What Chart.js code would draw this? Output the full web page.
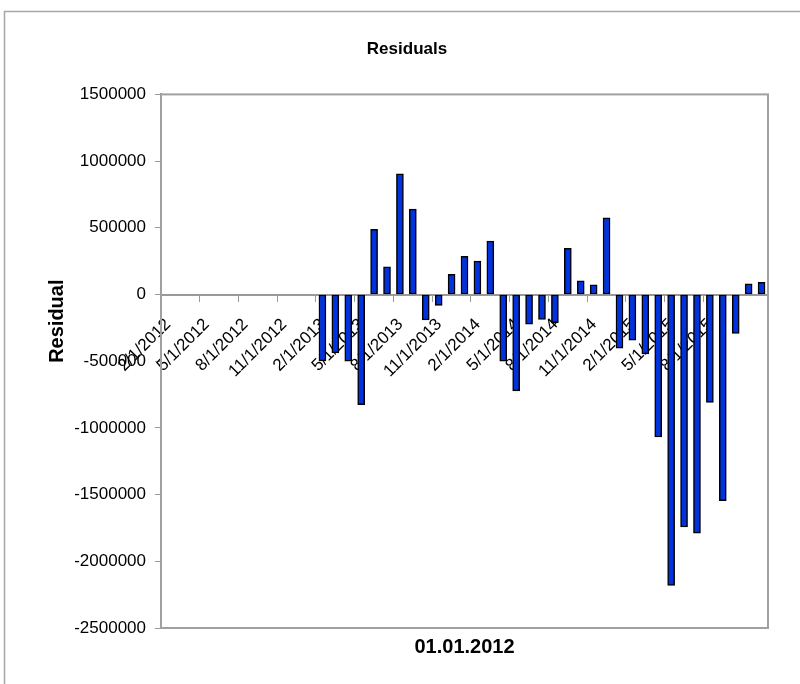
<!DOCTYPE html>
<html>
<head>
<meta charset="utf-8">
<title>Residuals</title>
<script src="https://cdn.jsdelivr.net/npm/chart.js@4"></script>
<style>
  html, body { margin: 0; padding: 0; background: #fff; }
  #wrap { width: 800px; height: 684px; }
</style>
</head>
<body>
<div id="wrap"><canvas id="chart" width="800" height="684"></canvas></div>
<script>
// axis starts at this month, ticks every 3 months
var axisStart = '2/1/2012';
var axisMonths = 47;
var tickLabels = ['2/1/2012', '5/1/2012', '8/1/2012', '11/1/2012',
    '2/1/2013', '5/1/2013', '8/1/2013', '11/1/2013',
    '2/1/2014', '5/1/2014', '8/1/2014', '11/1/2014',
    '2/1/2015', '5/1/2015', '8/1/2015', '11/1/2015'];

// monthly residuals
var months = ['2/1/2013', '3/1/2013', '4/1/2013', '5/1/2013', '6/1/2013', '7/1/2013',
    '8/1/2013', '9/1/2013', '10/1/2013', '11/1/2013', '12/1/2013',
    '1/1/2014', '2/1/2014', '3/1/2014', '4/1/2014', '5/1/2014', '6/1/2014',
    '7/1/2014', '8/1/2014', '9/1/2014', '10/1/2014', '11/1/2014', '12/1/2014',
    '1/1/2015', '2/1/2015', '3/1/2015', '4/1/2015', '5/1/2015', '6/1/2015',
    '7/1/2015', '8/1/2015', '9/1/2015', '10/1/2015', '11/1/2015', '12/1/2015'];
var residuals = [-497000, -437000, -500000, -826000, 488000, 207000,
    905000, 640000, -190000, -82000, 152000,
    287000, 250000, 400000, -500000, -722000, -222000,
    -187000, -212000, 347000, 103000, 73000, 575000,
    -402000, -342000, -445000, -1068000, -2180000, -1743000,
    -1790000, -809000, -1546000, -292000, 80000, 92000];

var yTicks = { min: -2500000, max: 1500000, step: 500000 };
var yTitle = 'Residual';

// month number of a m/d/yyyy string
function monthIndex(s) {
    var p = s.split('/');
    return parseInt(p[2], 10) * 12 + parseInt(p[0], 10) - 1;
}

var start = monthIndex(axisStart);
var points = months.map(function(m, i) {
    // bar sits in the middle of its month slot
    return { x: monthIndex(m) - start + 0.5, y: residuals[i] };
});

// gray frames (chart + plot area) and the y axis title, which excel puts above centre
var framePlugin = {
    id: 'frames',
    beforeDraw: function(chart) {
        var ctx = chart.ctx;
        ctx.save();
        ctx.fillStyle = '#fff';
        ctx.fillRect(0, 0, chart.width, chart.height);
        ctx.strokeStyle = '#a6a6a6';
        ctx.lineWidth = 1.5;
        ctx.strokeRect(4.5, 11.5, chart.width + 10, chart.height + 10);
        ctx.restore();
    },
    afterDraw: function(chart) {
        var a = chart.chartArea;
        var ctx = chart.ctx;
        ctx.save();
        ctx.strokeStyle = '#a0a0a0';
        ctx.lineWidth = 2;
        ctx.strokeRect(a.left, a.top, a.right - a.left, a.bottom - a.top);

        ctx.translate(57, chart.scales.y.getPixelForValue(-200000));
        ctx.rotate(-Math.PI / 2);
        ctx.fillStyle = '#000';
        ctx.font = 'bold 20px "Liberation Sans"';
        ctx.textAlign = 'center';
        ctx.textBaseline = 'middle';
        ctx.fillText(yTitle, 0, 0);
        ctx.restore();
    }
};

var ctx = document.getElementById('chart').getContext('2d');
var chart = new Chart(ctx, {
    type: 'bar',
    data: {
        datasets: [{
            label: 'Residual',
            data: points,
            xAxisID: 'x',
            backgroundColor: '#0033dd',
            borderColor: '#000',
            borderWidth: 1.5,
            borderSkipped: false,
            barThickness: 7
        }]
    },
    options: {
        responsive: false,
        animation: false,
        devicePixelRatio: 1,
        layout: { padding: { left: 46, right: 32, top: 0, bottom: 0 } },
        plugins: {
            legend: { display: false },
            tooltip: { enabled: false },
            title: {
                display: true,
                text: 'Residuals',
                color: '#000',
                font: { family: 'Liberation Sans', size: 17, weight: 'bold' },
                padding: { top: 39, bottom: 35 }
            }
        },
        scales: {
            x: {
                type: 'linear',
                position: { y: 0 },
                offset: false,
                min: 0,
                max: axisMonths,
                grid: { drawOnChartArea: false, offset: false, color: '#999', tickLength: 6 },
                border: { color: '#999', width: 2 },
                ticks: {
                    stepSize: 3,
                    autoSkip: false,
                    minRotation: 45,
                    maxRotation: 45,
                    padding: 14,
                    labelOffset: 7,
                    color: '#000',
                    font: { family: 'Liberation Sans', size: 17 },
                    callback: function(v) {
                        return tickLabels[Math.round(v / 3)];
                    }
                }
            },
            x2: {
                type: 'linear',
                position: 'bottom',
                offset: false,
                min: 0,
                max: axisMonths,
                grid: { display: false, drawTicks: false },
                border: { display: false },
                ticks: { display: false },
                title: {
                    display: true,
                    text: '01.01.2012',
                    color: '#000',
                    font: { family: 'Liberation Sans', size: 20, weight: 'bold' },
                    padding: { top: 7, bottom: 25 }
                },
                afterFit: function(scale) { scale.height = 56; }
            },
            y: {
                min: yTicks.min,
                max: yTicks.max,
                grid: { drawOnChartArea: false, color: '#999', tickLength: 6 },
                border: { color: '#999', width: 2 },
                ticks: {
                    stepSize: yTicks.step,
                    padding: 9,
                    color: '#000',
                    font: { family: 'Liberation Sans', size: 17 },
                    callback: function(v) { return String(v); }
                },
                afterFit: function(scale) { scale.width = 115; }
            }
        }
    },
    plugins: [framePlugin]
});
</script>
</body>
</html>
